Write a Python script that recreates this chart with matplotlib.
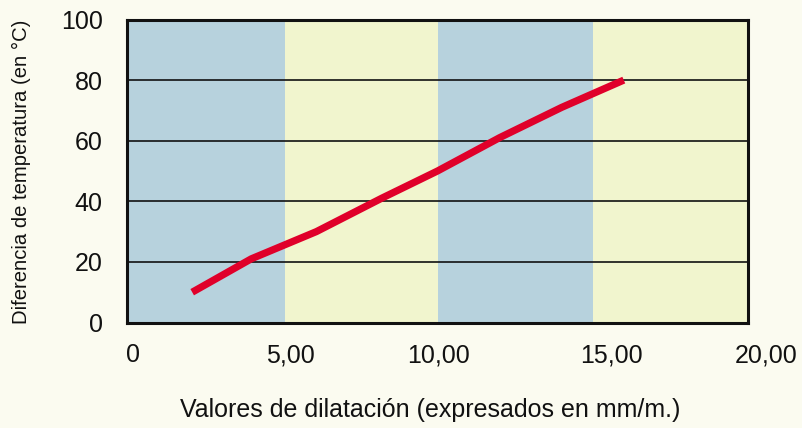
import matplotlib
matplotlib.use("Agg")
import matplotlib.pyplot as plt
from matplotlib.transforms import ScaledTranslation

# Data
dilatacion = [2.1, 4.0, 6.1, 8.2, 10.0, 12.0, 14.0, 16.0]
temperatura = [10, 21, 30, 41, 50, 61, 71, 80]
band_edges = [0, 5.1, 10, 15, 20]
band_colors = ["#B7D2DD", "#F1F5CE", "#B7D2DD", "#F1F5CE"]
x_ticks = [0, 5, 10, 15, 20]
x_tick_labels = ["0", "5,00", "10,00", "15,00", "20,00"]
y_ticks = [0, 20, 40, 60, 80, 100]
y_tick_labels = ["0", "20", "40", "60", "80", "100"]

# label horizontal offsets in pixels (style)
x_label_offsets = [6, 8, 1, 19, 18]

plt.rcParams['font.family'] = ['Liberation Sans', 'DejaVu Sans']

fig = plt.figure(figsize=(8.02, 4.28), dpi=100, facecolor="#FBFBF0")
ax = fig.add_axes([127/802, 1 - 322.5/428, (748 - 127)/802, (322.5 - 19.5)/428])

for i in range(len(band_colors)):
    ax.axvspan(band_edges[i], band_edges[i + 1], color=band_colors[i], lw=0, zorder=0)

for yv in y_ticks[1:-1]:
    ax.axhline(yv, color="#111111", lw=1.2, zorder=1)

ax.plot(dilatacion, temperatura, color="#E0002A", lw=5.2, solid_capstyle="butt",
        solid_joinstyle="round", zorder=3)

ax.set_xlim(0, 20)
ax.set_ylim(0, 100)

for s in ax.spines.values():
    s.set_linewidth(2.2)
    s.set_color("#111111")
    s.set_zorder(4)

ax.set_xticks(x_ticks)
ax.set_xticklabels(x_tick_labels, fontsize=18)
ax.set_yticks(y_ticks)
ax.set_yticklabels(y_tick_labels, fontsize=18)
ax.tick_params(axis="both", length=0, colors="#111111")
ax.tick_params(axis="x", pad=15)
ax.tick_params(axis="y", pad=17.5)

for lab, off in zip(ax.get_xticklabels(), x_label_offsets):
    lab.set_transform(lab.get_transform() + ScaledTranslation(off / 100, 0, fig.dpi_scale_trans))

fig.text(21 / 802, 1 - 172 / 428, "Diferencia de temperatura (en °C)", rotation=90,
         ha="center", va="center", fontsize=14.6, color="#111111")
fig.text(430 / 802, 1 - 410 / 428, "Valores de dilatación (expresados en mm/m.)",
         ha="center", va="center", fontsize=18, color="#111111")

fig.savefig("out.png", dpi=100, facecolor=fig.get_facecolor())
